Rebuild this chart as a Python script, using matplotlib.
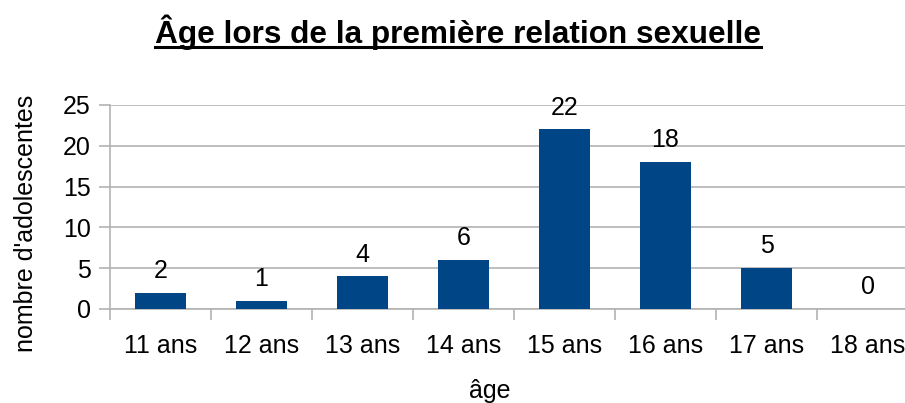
import numpy as np
import matplotlib
matplotlib.use("Agg")
import matplotlib.pyplot as plt
from matplotlib.lines import Line2D

categories = ["11 ans", "12 ans", "13 ans", "14 ans", "15 ans", "16 ans", "17 ans", "18 ans"]
counts = [2, 1, 4, 6, 22, 18, 5, 0]

plt.rcParams["font.family"] = ["Liberation Sans", "DejaVu Sans"]
W, H = 905, 403
fig = plt.figure(figsize=(W / 100, H / 100), dpi=100)
ax = fig.add_axes([110 / W, (H - 309) / H, 808 / W, 204 / H])

x = np.arange(len(categories))
bars = ax.bar(x, counts, width=0.5, color="#004586", zorder=3)
ax.bar_label(bars, labels=[str(c) for c in counts], padding=7, fontsize=18)

ax.set_xlim(-0.5, len(categories) - 0.5)
ax.set_ylim(0, 25)
ax.set_yticks(range(0, 26, 5))
ax.set_xticks(x)
ax.set_xticklabels(categories)
ax.set_xticks(np.arange(-0.5, len(categories), 1), minor=True)
ax.tick_params(axis="x", which="major", length=0, pad=18, labelsize=18)
ax.tick_params(axis="x", which="minor", length=8, color="#b3b3b3", width=1.2)
ax.tick_params(axis="y", length=8, color="#b3b3b3", width=1.2, labelsize=18, pad=6)
ax.grid(axis="y", color="#b3b3b3", lw=1.2, zorder=0)
for s in ["top", "right"]:
    ax.spines[s].set_visible(False)
for s in ["left", "bottom"]:
    ax.spines[s].set_color("#b3b3b3")
    ax.spines[s].set_linewidth(1.2)

fig.text(26 / W, 1 - 223 / H, "nombre d'adolescentes", rotation=90,
         ha="center", va="center", fontsize=18)
fig.text(490 / W, 1 - 391 / H, "âge", ha="center", va="center", fontsize=18)

title = fig.text(458 / W, 1 - 32 / H, "Âge lors de la première relation sexuelle",
                 ha="center", va="center", fontsize=22.7, fontweight="bold")

# underline the title
fig.canvas.draw()
bb = title.get_window_extent().transformed(fig.transFigure.inverted())
fig.add_artist(Line2D([bb.x0, bb.x1], [1 - 47 / H, 1 - 47 / H],
                      transform=fig.transFigure, color="black", lw=2.2))

fig.savefig("out.png", dpi=100)
